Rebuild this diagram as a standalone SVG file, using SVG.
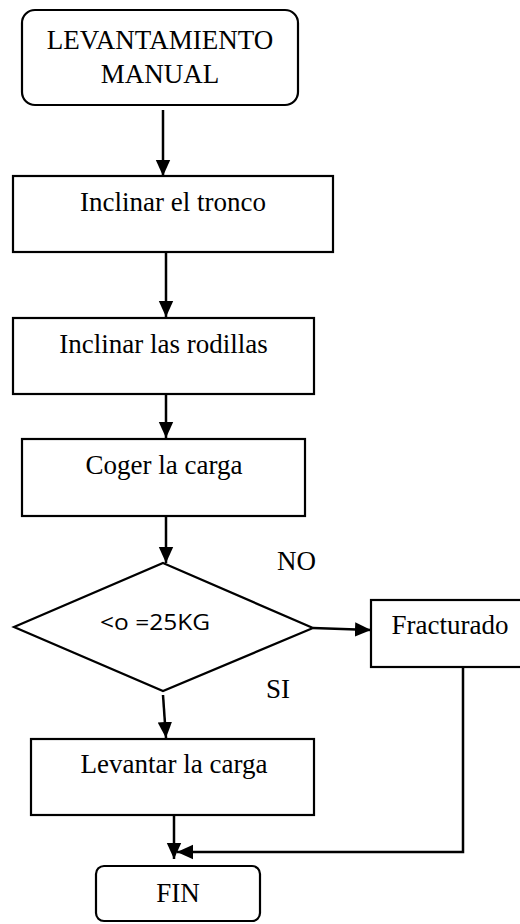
<svg xmlns="http://www.w3.org/2000/svg" width="520" height="924" viewBox="0 0 520 924">
<style>
.box{fill:#fff;stroke:#000;stroke-width:2.2}
.t{font-family:"Liberation Serif","Times New Roman",serif;font-size:27px;fill:#000;text-anchor:middle}
.s{font-family:"Open Sans","Liberation Sans",sans-serif;font-size:22px;fill:#000}
.c{fill:none;stroke:#000;stroke-width:2.5}
</style>
<defs>
<marker id="ah" viewBox="0 0 10 10" refX="10" refY="5" markerWidth="16" markerHeight="16" markerUnits="userSpaceOnUse" orient="auto">
<path d="M0,0.5 L10,5 L0,9.5 z" fill="#000"/>
</marker>
</defs>
<rect width="520" height="924" fill="#fff"/>
<g id="connectors">
<line class="c" x1="163" y1="110" x2="163" y2="176" marker-end="url(#ah)"/>
<line class="c" x1="166" y1="252" x2="166" y2="317" marker-end="url(#ah)"/>
<line class="c" x1="166" y1="394" x2="166" y2="438" marker-end="url(#ah)"/>
<line class="c" x1="166" y1="516" x2="166" y2="563" marker-end="url(#ah)"/>
<line class="c" x1="313" y1="628" x2="371" y2="630" marker-end="url(#ah)"/>
<line class="c" x1="163" y1="695" x2="166" y2="738" marker-end="url(#ah)"/>
<line class="c" x1="174" y1="808" x2="174" y2="859" marker-end="url(#ah)"/>
<polyline class="c" points="463,667 463,852 177,852" marker-end="url(#ah)"/>
</g>
<g id="start">
<rect class="box" x="22" y="10" width="276" height="95" rx="13"/>
<text class="t" x="160" y="49">LEVANTAMIENTO</text>
<text class="t" x="160" y="83">MANUAL</text>
</g>
<g id="tronco">
<rect class="box" x="13" y="176" width="320" height="76"/>
<text class="t" x="173" y="211">Inclinar el tronco</text>
</g>
<g id="rodillas">
<rect class="box" x="13" y="318" width="301" height="76"/>
<text class="t" x="163.5" y="353">Inclinar las rodillas</text>
</g>
<g id="coger">
<rect class="box" x="22" y="439" width="283" height="77"/>
<text class="t" x="164" y="474">Coger la carga</text>
</g>
<g id="decision">
<polygon class="box" points="163,563 313,628 163,691 14,627"/>
<text class="s" x="100" y="630" textLength="110" lengthAdjust="spacingAndGlyphs">&lt;o =25KG</text>
</g>
<g id="fracturado">
<rect class="box" x="371" y="600" width="160" height="67"/>
<text class="t" x="450" y="634">Fracturado</text>
</g>
<g id="levantar">
<rect class="box" x="31" y="739" width="283" height="76"/>
<text class="t" x="174" y="773">Levantar la carga</text>
</g>
<g id="fin">
<rect class="box" x="96" y="866" width="164" height="55" rx="8"/>
<text class="t" x="178" y="902">FIN</text>
</g>
<g id="labels">
<text class="t" x="296.5" y="570">NO</text>
<text class="t" x="278" y="698">SI</text>
</g>
</svg>
